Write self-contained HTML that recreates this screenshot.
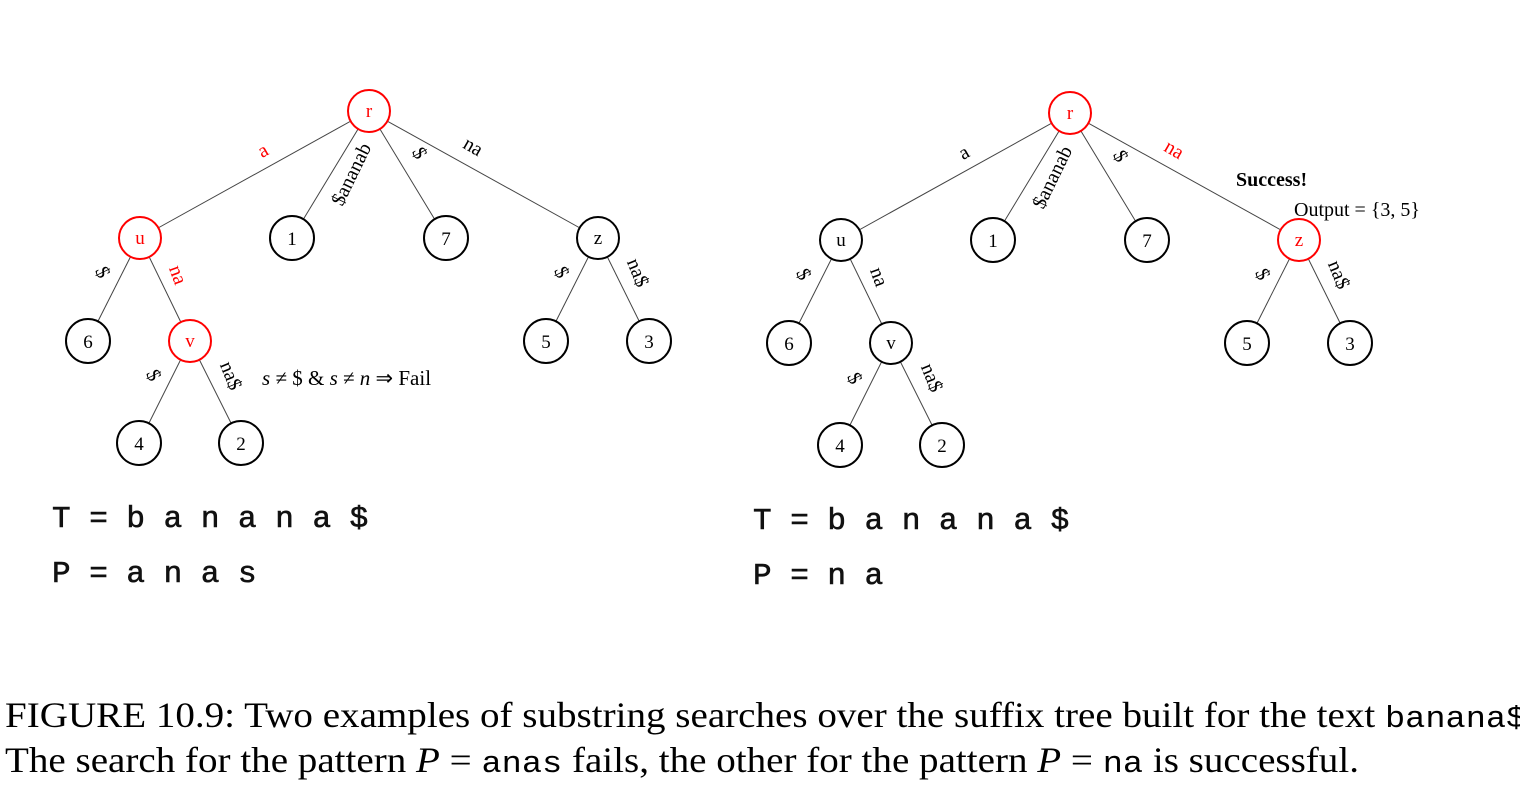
<!DOCTYPE html>
<html><head><meta charset="utf-8"><style>
body{margin:0;background:#fff;width:1520px;height:790px;overflow:hidden}
svg{position:absolute;left:0;top:0}
.cap{position:absolute;left:5px;font-family:"Liberation Serif",serif;font-size:36px;color:#000;white-space:nowrap;transform-origin:0 0;transform:scaleX(1.085)}
.cap code{font-family:"Liberation Mono",monospace;font-size:31px}
</style></head><body>
<svg width="1520" height="790" xmlns="http://www.w3.org/2000/svg" font-family="Liberation Serif, serif">
<g stroke="#444" stroke-width="1">
<line x1="369" y1="111" x2="140" y2="238"/><line x1="369" y1="111" x2="292" y2="238"/><line x1="369" y1="111" x2="446" y2="238"/><line x1="369" y1="111" x2="598" y2="238"/>
<line x1="140" y1="238" x2="88" y2="341"/><line x1="140" y1="238" x2="190" y2="341"/>
<line x1="598" y1="238" x2="546" y2="341"/><line x1="598" y1="238" x2="649" y2="341"/>
<line x1="190" y1="341" x2="139" y2="443"/><line x1="190" y1="341" x2="241" y2="443"/>
</g>
<g stroke="#444" stroke-width="1" transform="translate(701,2)">
<line x1="369" y1="111" x2="140" y2="238"/><line x1="369" y1="111" x2="292" y2="238"/><line x1="369" y1="111" x2="446" y2="238"/><line x1="369" y1="111" x2="598" y2="238"/>
<line x1="140" y1="238" x2="88" y2="341"/><line x1="140" y1="238" x2="190" y2="341"/>
<line x1="598" y1="238" x2="546" y2="341"/><line x1="598" y1="238" x2="649" y2="341"/>
<line x1="190" y1="341" x2="139" y2="443"/><line x1="190" y1="341" x2="241" y2="443"/>
</g>
<g stroke-width="2" fill="#fff">
<circle cx="369" cy="111" r="21" stroke="red"/><circle cx="140" cy="238" r="21" stroke="red"/><circle cx="190" cy="341" r="21" stroke="red"/>
<circle cx="292" cy="238" r="22" stroke="#000"/><circle cx="446" cy="238" r="22" stroke="#000"/><circle cx="598" cy="238" r="21" stroke="#000"/>
<circle cx="88" cy="341" r="22" stroke="#000"/><circle cx="546" cy="341" r="22" stroke="#000"/><circle cx="649" cy="341" r="22" stroke="#000"/>
<circle cx="139" cy="443" r="22" stroke="#000"/><circle cx="241" cy="443" r="22" stroke="#000"/>
<circle cx="1070" cy="113" r="21" stroke="red"/><circle cx="1299" cy="240" r="21" stroke="red"/>
<circle cx="841" cy="240" r="21" stroke="#000"/><circle cx="891" cy="343" r="21" stroke="#000"/>
<circle cx="993" cy="240" r="22" stroke="#000"/><circle cx="1147" cy="240" r="22" stroke="#000"/>
<circle cx="789" cy="343" r="22" stroke="#000"/><circle cx="1247" cy="343" r="22" stroke="#000"/><circle cx="1350" cy="343" r="22" stroke="#000"/>
<circle cx="840" cy="445" r="22" stroke="#000"/><circle cx="942" cy="445" r="22" stroke="#000"/>
</g>
<g font-size="19" text-anchor="middle">
<text x="369" y="117" fill="red">r</text><text x="140" y="244" fill="red">u</text><text x="190" y="347" fill="red">v</text>
<text x="292" y="245">1</text><text x="446" y="245">7</text><text x="598" y="244">z</text>
<text x="88" y="348">6</text><text x="546" y="348">5</text><text x="649" y="348">3</text>
<text x="139" y="450">4</text><text x="241" y="450">2</text>
<text x="1070" y="119" fill="red">r</text><text x="1299" y="246" fill="red">z</text>
<text x="841" y="246">u</text><text x="891" y="349">v</text>
<text x="993" y="247">1</text><text x="1147" y="247">7</text>
<text x="789" y="350">6</text><text x="1247" y="350">5</text><text x="1350" y="350">3</text>
<text x="840" y="452">4</text><text x="942" y="452">2</text>
</g>
<g font-size="20" text-anchor="middle">
<text transform="translate(266,156) rotate(-30)" fill="red">a</text>
<text transform="translate(357,177) rotate(-64)">$ananab</text>
<text transform="translate(414,156) rotate(62)">$</text>
<text transform="translate(470,152) rotate(30)">na</text>
<text transform="translate(97,275) rotate(64)">$</text>
<text transform="translate(172,277) rotate(70)" fill="red">na</text>
<text transform="translate(556,275) rotate(64)">$</text>
<text transform="translate(632,275) rotate(68)">na$</text>
<text transform="translate(148,378) rotate(64)">$</text>
<text transform="translate(225,378) rotate(68)">na$</text>
<text transform="translate(967,158) rotate(-30)">a</text>
<text transform="translate(1058,180) rotate(-64)">$ananab</text>
<text transform="translate(1115,159) rotate(62)">$</text>
<text transform="translate(1171,155) rotate(30)" fill="red">na</text>
<text transform="translate(798,277) rotate(64)">$</text>
<text transform="translate(873,279) rotate(70)">na</text>
<text transform="translate(1257,277) rotate(64)">$</text>
<text transform="translate(1333,277) rotate(68)">na$</text>
<text transform="translate(849,381) rotate(64)">$</text>
<text transform="translate(926,380) rotate(68)">na$</text>
</g>
<text x="262" y="385" font-size="21"><tspan font-style="italic">s</tspan> ≠ $ &amp; <tspan font-style="italic">s</tspan> ≠ <tspan font-style="italic">n</tspan>  ⇒ Fail</text>
<text x="1236" y="186" font-size="20" font-weight="bold">Success!</text>
<text x="1294" y="216" font-size="20">Output = {3, 5}</text>
<g font-family="Liberation Mono, monospace" font-size="31" fill="#111" stroke="#111" stroke-width="0.6">
<text x="52" y="527" xml:space="preserve">T = b a n a n a $</text>
<text x="52" y="582" xml:space="preserve">P = a n a s</text>
<text x="753" y="529" xml:space="preserve">T = b a n a n a $</text>
<text x="753" y="584" xml:space="preserve">P = n a</text>
</g>
</svg>
<div class="cap" style="top:694px">FIGURE 10.9: Two examples of substring searches over the suffix tree built for the text <code>banana$</code>.</div>
<div class="cap" style="top:739px">The search for the pattern <i>P</i> = <code>anas</code> fails, the other for the pattern <i>P</i> = <code>na</code> is successful.</div>
</body></html>
